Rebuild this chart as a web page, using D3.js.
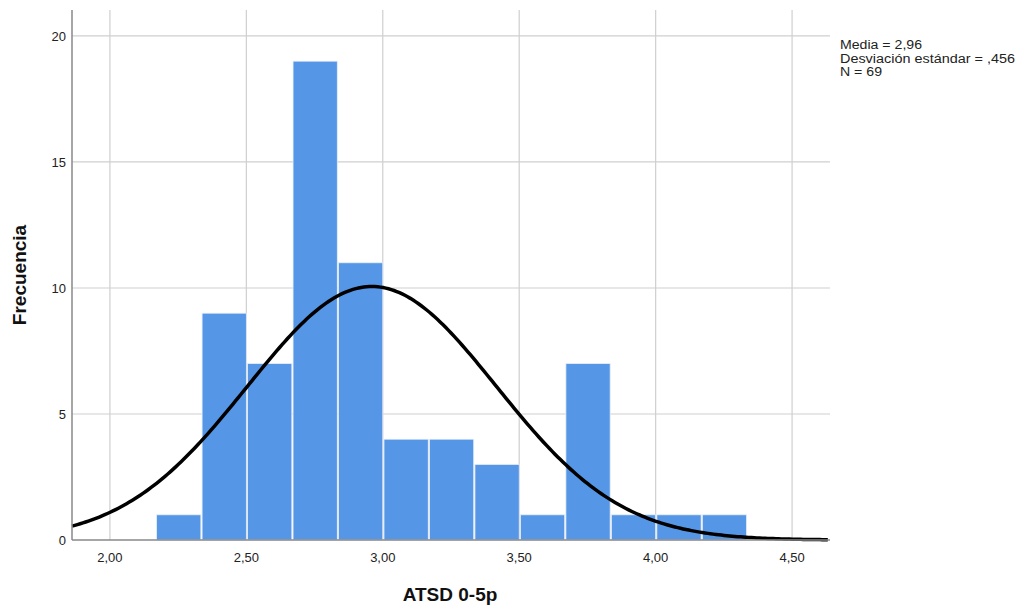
<!DOCTYPE html>
<html>
<head>
<meta charset="utf-8">
<script src="https://d3js.org/d3.v7.min.js"></script>
<style>
  body { margin: 0; background: #fff; font-family: Arial, "Liberation Sans", sans-serif; }
</style>
</head>
<body>
<div id="chart"></div>
<script>
// Histogram bins (lower edge, upper edge) and counts
const binEdges = [2.1667, 2.3333, 2.5, 2.6667, 2.8333, 3.0, 3.1667, 3.3333, 3.5, 3.6667, 3.8333, 4.0, 4.1667, 4.3333];
const counts = [1, 9, 7, 19, 11, 4, 4, 3, 1, 7, 1, 1, 1];
const xTicks = [2.0, 2.5, 3.0, 3.5, 4.0, 4.5];
const yTicks = [0, 5, 10, 15, 20];
const stats = { mean: 2.96, sd: 0.456, n: 69 };
const statLines = ['Media = 2,96', 'Desviación estándar = ,456', 'N = 69'];

const W = 1018, H = 610;
const margin = { left: 72, right: 188, top: 10, bottom: 70 };

const svg = d3.select('#chart').append('svg')
  .attr('width', W).attr('height', H);

const x = d3.scaleLinear().domain([1.861, 4.639]).range([margin.left, W - margin.right]);
const y = d3.scaleLinear().domain([0, 21.03]).range([H - margin.bottom, margin.top]);

const fmt = d => d3.format('.2f')(d).replace('.', ',');

// Grid
svg.append('g').selectAll('line.v').data(xTicks).enter().append('line')
  .attr('x1', d => x(d)).attr('x2', d => x(d))
  .attr('y1', y.range()[1]).attr('y2', y(0))
  .attr('stroke', '#cfcfcf').attr('stroke-width', 1.2);
svg.append('g').selectAll('line.h').data(yTicks.filter(d => d > 0)).enter().append('line')
  .attr('x1', x.range()[0]).attr('x2', x.range()[1])
  .attr('y1', d => y(d)).attr('y2', d => y(d))
  .attr('stroke', '#cfcfcf').attr('stroke-width', 1.2);

// Bars
const bins = counts.map((c, i) => ({ x0: binEdges[i], x1: binEdges[i + 1], c }));
svg.append('g').selectAll('rect').data(bins).enter().append('rect')
  .attr('x', d => x(d.x0) + 1.2)
  .attr('width', d => x(d.x1) - x(d.x0) - 1.2)
  .attr('y', d => y(d.c))
  .attr('height', d => y(0) - y(d.c))
  .attr('fill', '#5596e6')
  .attr('stroke', '#e8eef8').attr('stroke-width', 0.8);

// Normal curve
const binW = binEdges[1] - binEdges[0];
const dens = v => stats.n * binW / (stats.sd * Math.sqrt(2 * Math.PI)) *
  Math.exp(-0.5 * Math.pow((v - stats.mean) / stats.sd, 2));
const curveX = d3.range(x.domain()[0], x.domain()[1] + 0.001, 0.01);
svg.append('path')
  .datum(curveX)
  .attr('d', d3.line().x(d => x(d)).y(d => y(dens(d))))
  .attr('fill', 'none').attr('stroke', '#000').attr('stroke-width', 3.5);

// Axes
svg.append('line')
  .attr('x1', x.range()[0]).attr('x2', x.range()[0])
  .attr('y1', y.range()[1]).attr('y2', y(0))
  .attr('stroke', '#888').attr('stroke-width', 1.5);
svg.append('line')
  .attr('x1', x.range()[0]).attr('x2', x.range()[1])
  .attr('y1', y(0)).attr('y2', y(0))
  .attr('stroke', '#888').attr('stroke-width', 1.5);

svg.append('g').selectAll('text').data(yTicks).enter().append('text')
  .attr('x', x.range()[0] - 6).attr('y', d => y(d) + 5)
  .attr('text-anchor', 'end').attr('font-size', 13).attr('fill', '#222')
  .text(d => d);
svg.append('g').selectAll('text').data(xTicks).enter().append('text')
  .attr('x', d => x(d)).attr('y', y(0) + 22)
  .attr('text-anchor', 'middle').attr('font-size', 13).attr('fill', '#222')
  .text(fmt);

// Axis titles
svg.append('text')
  .attr('x', 450).attr('y', 601)
  .attr('text-anchor', 'middle').attr('font-size', 19).attr('font-weight', 'bold').attr('fill', '#111')
  .text('ATSD 0-5p');
svg.append('text')
  .attr('transform', 'translate(26,275) rotate(-90)')
  .attr('text-anchor', 'middle').attr('font-size', 19).attr('font-weight', 'bold').attr('fill', '#111')
  .text('Frecuencia');

// Stats box
svg.append('g').selectAll('text').data(statLines).enter().append('text')
  .attr('x', 840).attr('y', (d, i) => 49 + i * 13.5)
  .attr('font-size', 12).attr('fill', '#222')
  .attr('textLength', (d, i) => [82, 175, 42][i])
  .attr('lengthAdjust', 'spacingAndGlyphs')
  .text(d => d);
</script>
</body>
</html>
